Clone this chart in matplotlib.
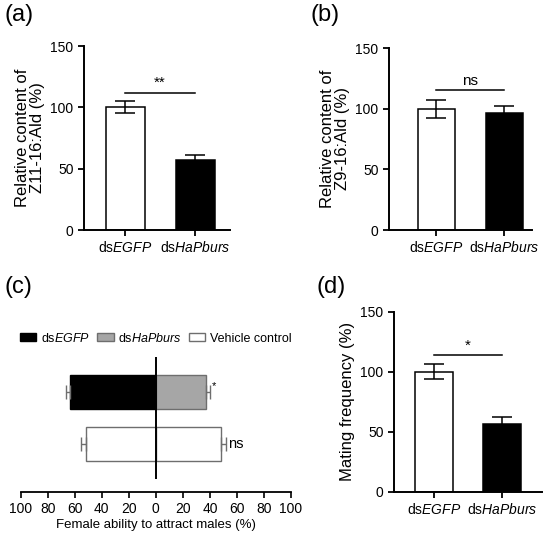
import matplotlib
matplotlib.use("Agg")
import matplotlib.pyplot as plt
from matplotlib.patches import Patch
import numpy as np

plt.rcParams['font.family'] = ['Liberation Sans', 'DejaVu Sans']
plt.rcParams['mathtext.fontset'] = 'custom'
plt.rcParams['mathtext.rm'] = 'Liberation Sans'
plt.rcParams['mathtext.it'] = 'Liberation Sans:italic'

# data
groups = ['ds$\\mathit{EGFP}$', 'ds$\\mathit{HaPburs}$']
z11_mean = [100, 57]
z11_err = [5, 4.5]
z9_mean = [100, 96.5]
z9_err = [7.5, 5.5]
mating_mean = [100, 56]
mating_err = [6.5, 6.5]

# panel c: left side (negative) and right side values
attract_rows = ['treated', 'vehicle']
attract_left = [63.5, 51.5]
attract_left_err = [3, 3.7]
attract_right = [37, 48.5]
attract_right_err = [2.7, 3.4]
attract_sig = ['*', 'ns']

W, H = 550, 536
fig = plt.figure(figsize=(W / 100, H / 100), dpi=100)


def px_axes(x0, x1, ytop, ybot):
    return fig.add_axes([x0 / W, 1 - ybot / H, (x1 - x0) / W, (ybot - ytop) / H])


def bar_panel(ax, means, errs, xlim, sig, sig_y, ylabel, width=0.56):
    x = np.arange(len(means))
    ax.bar(x, means, width=width, color=['white', 'black'], edgecolor='black',
           linewidth=1.1, zorder=2)
    ax.errorbar(x, means, yerr=errs, fmt='none', ecolor='black', elinewidth=1.1,
                capsize=7, capthick=1.1, zorder=3)
    ax.set_ylim(0, 150)
    ax.set_yticks([0, 50, 100, 150])
    ax.set_xlim(*xlim)
    ax.set_xticks(x)
    ax.set_xticklabels(groups, fontsize=10)
    ax.tick_params(axis='y', labelsize=10, width=1.3, length=4)
    ax.tick_params(axis='x', width=1.3, length=4)
    for s in ['top', 'right']:
        ax.spines[s].set_visible(False)
    for s in ['left', 'bottom']:
        ax.spines[s].set_linewidth(1.4)
    ax.plot([0, 1], [sig_y, sig_y], color='black', lw=1.1)
    ax.text(0.5, sig_y + 2, sig, ha='center', va='bottom', fontsize=11)
    ax.set_ylabel(ylabel, fontsize=12, linespacing=1.0, labelpad=4)


ax_a = px_axes(84, 230, 46, 230)
bar_panel(ax_a, z11_mean, z11_err, (-0.59, 1.5), '**', 112,
          'Relative content of\nZ11-16:Ald (%)')

ax_b = px_axes(389, 532, 48, 230)
bar_panel(ax_b, z9_mean, z9_err, (-0.70, 1.41), 'ns', 115,
          'Relative content of\nZ9-16:Ald (%)', width=0.55)

ax_d = px_axes(394, 542, 311.7, 491.7)
bar_panel(ax_d, mating_mean, mating_err, (-0.59, 1.59), '*', 114,
          'Mating frequency (%)')

# panel c
ax_c = px_axes(20.7, 291, 357, 479)
y = np.array([1, 0])
h = 0.65
gray_edge = '#6e6e6e'
ax_c.barh(y[0], -attract_left[0], height=h, color='black', edgecolor='black', lw=1)
ax_c.barh(y[0], attract_right[0], height=h, color='#a6a6a6', edgecolor=gray_edge, lw=1)
ax_c.barh(y[1], -attract_left[1], height=h, color='white', edgecolor=gray_edge, lw=1)
ax_c.barh(y[1], attract_right[1], height=h, color='white', edgecolor=gray_edge, lw=1)
ax_c.errorbar([-v for v in attract_left], y, xerr=[attract_left_err, [0, 0]],
              fmt='none', ecolor=gray_edge, elinewidth=1, capsize=5, capthick=1)
ax_c.errorbar(attract_right, y, xerr=[[0, 0], attract_right_err],
              fmt='none', ecolor=gray_edge, elinewidth=1, capsize=5, capthick=1)
for yy, r, e, s in zip(y, attract_right, attract_right_err, attract_sig):
    off = 0.12 if s == '*' else 0.0
    ax_c.text(r + e + 1.5, yy + off, s, ha='left', va='center',
              fontsize=8 if s == '*' else 10.5)
ax_c.axvline(0, color='black', lw=1.4, zorder=5)
ax_c.set_xlim(-100, 100)
ax_c.set_ylim(-0.673, 1.673)
ax_c.set_yticks([])
ticks = np.arange(-100, 101, 20)
ax_c.set_xticks(ticks)
ax_c.set_xticklabels([str(abs(t)) for t in ticks], fontsize=8.5)
ax_c.tick_params(axis='x', width=1.2, length=4)
for s in ['top', 'right', 'left']:
    ax_c.spines[s].set_visible(False)
ax_c.spines['bottom'].set_position(('outward', 9))
ax_c.spines['bottom'].set_linewidth(1.3)
ax_c.set_xlabel('Female ability to attract males (%)', fontsize=9.5, labelpad=2)

handles = [Patch(facecolor='black', edgecolor='black'),
           Patch(facecolor='#a6a6a6', edgecolor=gray_edge),
           Patch(facecolor='white', edgecolor=gray_edge)]
labels = ['ds$\\mathit{EGFP}$', 'ds$\\mathit{HaPburs}$', 'Vehicle control']
fig.legend(handles, labels, loc='center left', bbox_to_anchor=(20 / W, 1 - 338 / H),
           ncol=3, frameon=False, fontsize=9, handlelength=1.3, handleheight=0.6,
           handletextpad=0.35, columnspacing=0.6, borderaxespad=0, borderpad=0)

# panel letters
fig.text(4 / W, 1 - 4 / H, '(a)', fontsize=17, va='top', ha='left')
fig.text(310 / W, 1 - 4 / H, '(b)', fontsize=17, va='top', ha='left')
fig.text(4 / W, 1 - 276 / H, '(c)', fontsize=17, va='top', ha='left')
fig.text(316 / W, 1 - 276 / H, '(d)', fontsize=17, va='top', ha='left')

fig.savefig('out.png', dpi=100)
